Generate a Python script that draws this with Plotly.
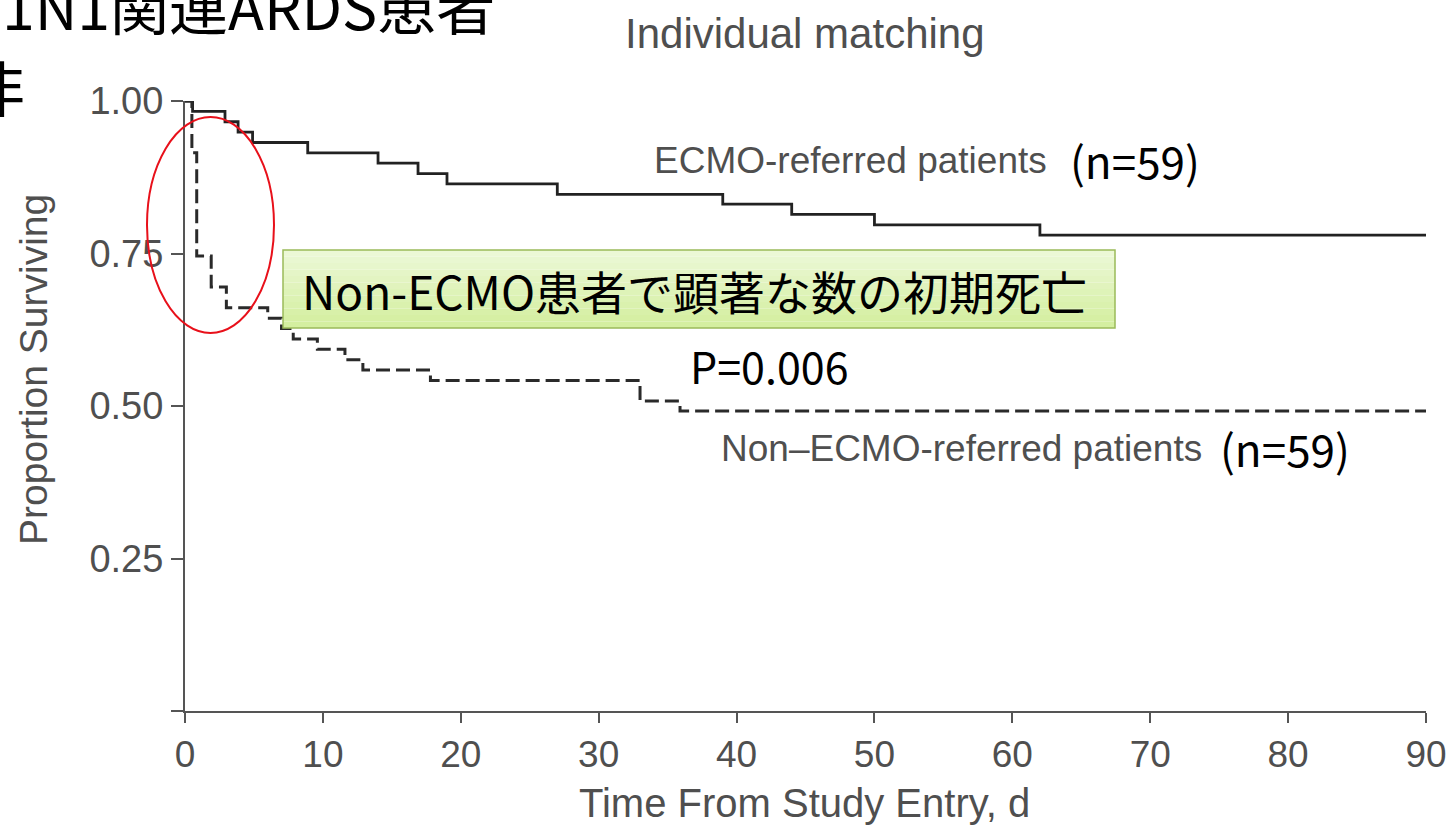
import plotly.graph_objects as go

# ---- data ----
ecmo_days = [0, 0.55, 2.9, 3.85, 4.9, 8.9, 14, 16.9, 19, 27, 39, 44, 50, 62, 90]
ecmo_surv = [1.00, 0.983, 0.966, 0.949, 0.932, 0.915, 0.898, 0.881, 0.864, 0.847, 0.831, 0.814, 0.797, 0.780, 0.780]

non_days = [0, 0.5, 0.85, 1.9, 3.0, 6.0, 7.0, 7.85, 9.6, 11.6, 12.9, 17.8, 33, 35.9, 90]
non_surv = [1.00, 0.915, 0.746, 0.695, 0.661, 0.644, 0.627, 0.610, 0.593, 0.576, 0.559, 0.542, 0.508, 0.492, 0.492]

x_ticks = [0, 10, 20, 30, 40, 50, 60, 70, 80, 90]
y_ticks = [0, 0.25, 0.50, 0.75, 1.00]
y_ticktext = ["", "0.25", "0.50", "0.75", "1.00"]

GRAY = "#4f4f4f"
LAT = "Liberation Sans, Arial, sans-serif"
JP = "Noto Sans CJK JP"

fig = go.Figure()
fig.add_trace(go.Scatter(x=ecmo_days, y=ecmo_surv, mode="lines", line_shape="hv",
                         line=dict(color="#222222", width=2.8), showlegend=False))
fig.add_trace(go.Scatter(x=non_days, y=non_surv, mode="lines", line_shape="hv",
                         line=dict(color="#2a2a2a", width=3, dash="14px,6px"), showlegend=False))

W0, W1 = 185, 1426
H1, H0 = 101, 711
def px(xp):
    return (xp - W0) / (W1 - W0)
def py(yp):
    return (H0 - yp) / (H0 - H1)

shapes = []
# green box with vertical gradient
bx0, bx1, by0, by1 = 283, 1115, 250, 328
n = 12
c_top = (236, 248, 214)
c_bot = (212, 239, 160)
for i in range(n):
    t = i / (n - 1)
    col = tuple(int(c_top[k] + (c_bot[k] - c_top[k]) * t) for k in range(3))
    ya = by0 + (by1 - by0) * i / n
    yb = by0 + (by1 - by0) * (i + 1) / n
    shapes.append(dict(type="rect", xref="paper", yref="paper",
                       x0=px(bx0), x1=px(bx1), y0=py(yb), y1=py(ya),
                       fillcolor="rgb(%d,%d,%d)" % col, line=dict(width=0), layer="above"))
shapes.append(dict(type="rect", xref="paper", yref="paper",
                   x0=px(bx0), x1=px(bx1), y0=py(by1), y1=py(by0),
                   fillcolor="rgba(0,0,0,0)", line=dict(color="#9bbb59", width=1.5), layer="above"))
# red ellipse
shapes.append(dict(type="circle", xref="paper", yref="paper",
                   x0=px(147), x1=px(274), y0=py(333), y1=py(117),
                   line=dict(color="#e8101a", width=2), layer="above"))

ann = []
def A(text, x, y, size, color, font, xanchor="center", angle=0):
    ann.append(dict(text=text, x=px(x), y=py(y), xref="paper", yref="paper",
                    xanchor=xanchor, yanchor="middle", showarrow=False, textangle=angle,
                    font=dict(size=size, color=color, family=font)))

A("Individual matching", 805, 33, 42, GRAY, LAT)
A("ECMO-referred patients", 1049, 160, 37, GRAY, LAT, "right")
A("(n=59)", 1068, 160, 44, "#000", JP, "left")
A("Non–ECMO-referred patients", 1204, 448, 37, GRAY, LAT, "right")
A("(n=59)", 1218, 448, 44, "#000", JP, "left")
A("P=0.006", 688, 365, 43, "#000", JP, "left")
A("Non-ECMO患者で顕著な数の初期死亡", 694, 290, 46, "#000", JP)
A("Proportion Surviving", 33, 370, 39, GRAY, LAT, angle=-90)
A("Time From Study Entry, d", 804, 803, 40, GRAY, LAT)
A("H1N1関連ARDS患者", 497, 5, 59, "#000", JP, "right")
A("非", -5, 85, 60, "#000", JP)

fig.update_layout(
    width=1452, height=828,
    margin=dict(l=185, r=26, t=101, b=117),
    paper_bgcolor="white", plot_bgcolor="white",
    shapes=shapes, annotations=ann,
    xaxis=dict(range=[0, 90], tickvals=x_ticks, ticks="outside", ticklen=10, tickwidth=1.5,
               tickcolor="#555", showline=True, linecolor="#555", linewidth=2,
               showgrid=False, zeroline=False, automargin=False,
               tickfont=dict(size=37, color=GRAY, family=LAT)),
    yaxis=dict(range=[0, 1.0], tickvals=y_ticks, ticktext=y_ticktext, ticks="outside", ticklen=12,
               tickwidth=1.5, tickcolor="#555", showline=True, linecolor="#555", linewidth=2,
               showgrid=False, zeroline=False, automargin=False,
               tickfont=dict(size=38, color=GRAY, family=LAT)),
)

fig.write_html("out.html")
